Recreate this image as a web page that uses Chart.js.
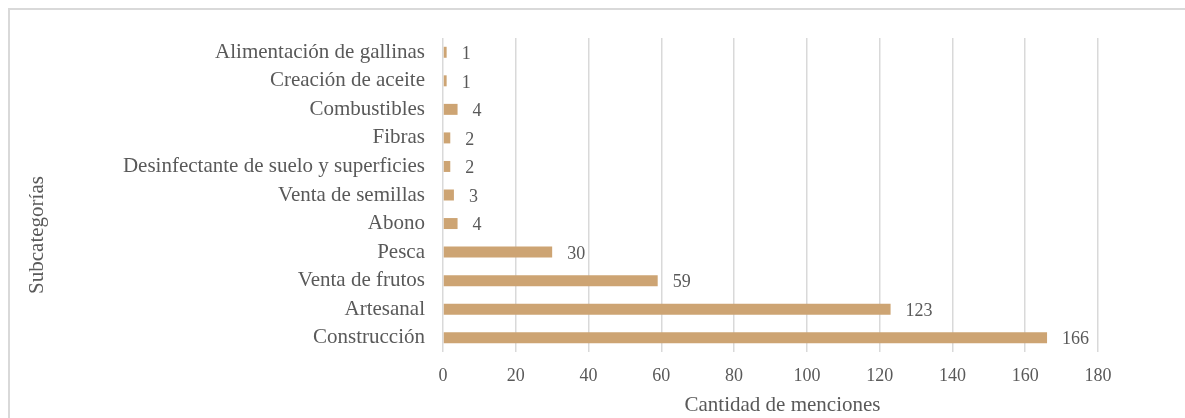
<!DOCTYPE html>
<html>
<head>
<meta charset="utf-8">
<script src="https://cdn.jsdelivr.net/npm/chart.js@4/dist/chart.umd.min.js"></script>
<style>
  html, body { margin: 0; padding: 0; background: #fff; overflow: hidden; }
  #wrap { position: relative; width: 1185px; height: 418px; overflow: hidden; }
  #frame { position: absolute; left: 8px; top: 8px; width: 1200px; height: 500px;
           border: 2px solid #d9d9d9; box-sizing: border-box; }
  canvas { position: absolute; left: 0; top: 0; }
</style>
</head>
<body>
<div id="wrap">
  <div id="frame"></div>
  <canvas id="c" width="1185" height="418"></canvas>
</div>
<script>
// Subcategories and their number of mentions
const categories = [
  'Alimentación de gallinas',
  'Creación de aceite',
  'Combustibles',
  'Fibras',
  'Desinfectante de suelo y superficies',
  'Venta de semillas',
  'Abono',
  'Pesca',
  'Venta de frutos',
  'Artesanal',
  'Construcción'
];
const mentions = [1, 1, 4, 2, 2, 3, 4, 30, 59, 123, 166];
const xTicks = [0, 20, 40, 60, 80, 100, 120, 140, 160, 180];
const xTitle = 'Cantidad de menciones';
const yTitle = 'Subcategorías';

const FONT = '"Liberation Serif", "Times New Roman", serif';
const TEXT = '#595959';

// Value labels to the right of each bar
const valueLabels = {
  id: 'valueLabels',
  afterDatasetsDraw(chart) {
    const ctx = chart.ctx;
    const meta = chart.getDatasetMeta(0);
    const data = chart.data.datasets[0].data;
    ctx.save();
    ctx.font = '18px ' + FONT;
    ctx.fillStyle = TEXT;
    ctx.textAlign = 'left';
    ctx.textBaseline = 'middle';
    meta.data.forEach((bar, i) => {
      ctx.fillText(String(data[i]), bar.x + 15, bar.y + 2);
    });
    ctx.restore();
  }
};

// Axis titles
const axisTitles = {
  id: 'axisTitles',
  afterDraw(chart) {
    const ctx = chart.ctx;
    const a = chart.chartArea;
    ctx.save();
    ctx.font = '21px ' + FONT;
    ctx.fillStyle = TEXT;
    ctx.textAlign = 'center';
    ctx.textBaseline = 'middle';
    ctx.fillText(xTitle, (a.left + a.right) / 2 + 12, 405);
    ctx.translate(37, 235);
    ctx.rotate(-Math.PI / 2);
    ctx.fillText(yTitle, 0, 0);
    ctx.restore();
  }
};

new Chart(document.getElementById('c'), {
  type: 'bar',
  data: {
    labels: categories,
    datasets: [{
      data: mentions,
      backgroundColor: '#cda473',
      borderWidth: 0,
      categoryPercentage: 1,
      barPercentage: 0.385
    }]
  },
  options: {
    indexAxis: 'y',
    responsive: false,
    animation: false,
    devicePixelRatio: 1,
    layout: { padding: { left: 0, right: 87, top: 38, bottom: 0 } },
    plugins: { legend: { display: false }, tooltip: { enabled: false } },
    scales: {
      x: {
        min: 0, max: 180,
        afterBuildTicks(scale) { scale.ticks = xTicks.map(v => ({ value: v })); },
        grid: { color: '#d9d9d9', lineWidth: 1.5, drawTicks: false },
        border: { display: false },
        ticks: { color: TEXT, font: { family: FONT, size: 18 }, padding: 13, maxRotation: 0 },
        afterFit(scale) { scale.height = 66; }
      },
      y: {
        grid: { display: false, drawTicks: false },
        border: { display: false },
        ticks: { color: TEXT, font: { family: FONT, size: 21 }, padding: 18, autoSkip: false },
        afterFit(scale) { scale.width = 443; }
      }
    }
  },
  plugins: [valueLabels, axisTitles]
});
</script>
</body>
</html>
